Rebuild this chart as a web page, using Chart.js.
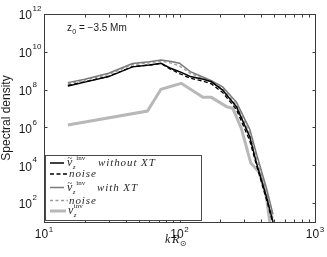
<!DOCTYPE html>
<html>
<head>
<meta charset="utf-8">
<script src="https://cdn.jsdelivr.net/npm/chart.js@4/dist/chart.umd.min.js"></script>
<style>
html,body{margin:0;padding:0;background:#fff;}
#c{display:block;}
</style>
</head>
<body>
<canvas id="c" width="327" height="257"></canvas>
<script>
// ---- data ----
const kMain = [15, 20, 30, 45, 60, 73, 85, 100, 120, 150, 172, 208, 263, 330, 370, 438, 490];
const vWithoutXT     = [1.55e8, 2.5e8, 4.9e8, 1.6e9, 2.0e9, 2.45e9, 1.4e9, 8.9e8, 5.0e8, 3.55e8, 2.6e8, 9.5e7, 1.26e7, 3.2e5, 1.3e4, 214, 10];
const noiseWithoutXT = [1.66e8, 2.6e8, 5.0e8, 1.66e9, 2.0e9, 2.4e9, 1.26e9, 7.1e8, 4.0e8, 2.8e8, 2.0e8, 7.1e7, 8.9e6, 2.0e5, 1.0e4, 160, 8];
const vWithXT        = [2.35e8, 3.55e8, 7.4e8, 2.4e9, 3.0e9, 3.7e9, 3.2e9, 2.5e9, 8.9e8, 4.5e8, 3.0e8, 1.4e8, 2.2e7, 7.9e5, 4.0e4, 630, 25];
const noiseWithXT    = [2.0e8, 3.2e8, 6.3e8, 2.1e9, 2.6e9, 3.2e9, 2.6e9, 1.8e9, 7.1e8, 4.0e8, 2.8e8, 1.1e8, 1.6e7, 5.0e5, 2.5e4, 400, 16];
const kInv = [15, 58, 73, 103, 149, 172, 222, 248, 286, 336, 391, 438, 464];
const vInv = [1.35e6, 7.4e6, 1.05e8, 2.15e8, 3.9e7, 3.9e7, 1.26e7, 1.0e7, 8.9e5, 1.3e4, 3.9e3, 200, 10];
const xTickExponents = ['1', '2', '3'];
const yTickExponents = ['2', '4', '6', '8', '10', '12'];
const annotationText = ['z', '0', ' = \u22123.5 Mm'];
const yTitle = 'Spectral density';
const legendLabels = [
  {base: 'v', tilde: true, sub: 'z', sup: 'inv', rest: 'without XT'},
  {rest: 'noise'},
  {base: 'v', tilde: true, sub: 'z', sup: 'inv', rest: 'with XT'},
  {rest: 'noise'},
  {base: 'v', tilde: false, sub: 'z', sup: 'inv', rest: ''}
];

const pts = (xs, ys) => xs.map((x, i) => ({x: x, y: ys[i]}));

const SANS = "'Liberation Sans', Arial, sans-serif";
const SERIF = "'Liberation Serif', 'Times New Roman', serif";

const decor = {
  id: 'decor',
  afterDraw(chart) {
    const ctx = chart.ctx;
    const ca = chart.chartArea;
    const xs = chart.scales.x, ys = chart.scales.y;
    const L = Math.round(ca.left) + 0.5, R = Math.round(ca.right) + 0.5;
    const T = Math.round(ca.top) + 0.5, B = Math.round(ca.bottom) + 0.5;
    ctx.save();
    // frame
    ctx.strokeStyle = '#3c3c3c';
    ctx.lineWidth = 1;
    ctx.setLineDash([]);
    ctx.strokeRect(L, T, R - L, B - T);
    // x ticks (log minor + major)
    ctx.beginPath();
    for (let e = 0; e < xTickExponents.length; e++) {
      const d = Math.pow(10, parseInt(xTickExponents[e]));
      const lim = (e === xTickExponents.length - 1) ? 1 : 9;
      for (let m = 1; m <= lim; m++) {
        const px = Math.round(xs.getPixelForValue(d * m)) + 0.5;
        ctx.moveTo(px, B); ctx.lineTo(px, B - 3);
        ctx.moveTo(px, T); ctx.lineTo(px, T + 3);
      }
    }
    // y ticks
    yTickExponents.forEach(ex => {
      const py = Math.round(ys.getPixelForValue(Math.pow(10, parseInt(ex)))) + 0.5;
      ctx.moveTo(L, py); ctx.lineTo(L + 3, py);
      ctx.moveTo(R, py); ctx.lineTo(R - 3, py);
    });
    ctx.stroke();

    // tick labels
    ctx.fillStyle = '#1a1a1a';
    ctx.textBaseline = 'middle';
    xTickExponents.forEach(ex => {
      const px = xs.getPixelForValue(Math.pow(10, parseInt(ex)));
      ctx.font = '12px ' + SANS;
      ctx.textAlign = 'center';
      const w = ctx.measureText('10').width;
      const cx = px - 2.5;
      ctx.fillText('10', cx, 235);
      ctx.font = '8px ' + SANS;
      ctx.textAlign = 'left';
      ctx.fillText(ex, cx + w / 2 + 0.5, 229.5);
    });
    yTickExponents.forEach(ex => {
      const py = ys.getPixelForValue(Math.pow(10, parseInt(ex)));
      ctx.font = '12px ' + SANS;
      ctx.textAlign = 'right';
      ctx.fillText('10', 32, py + 2);
      ctx.font = '8px ' + SANS;
      ctx.textAlign = 'left';
      ctx.fillText(ex, 32.5, py - 5);
    });

    // y title
    ctx.save();
    ctx.translate(7, (ca.top + ca.bottom) / 2);
    ctx.rotate(-Math.PI / 2);
    ctx.font = '12px ' + SANS;
    ctx.textAlign = 'center';
    ctx.textBaseline = 'middle';
    ctx.fillText(yTitle, 0, 0);
    ctx.restore();

    // x title  k R_sun
    ctx.textBaseline = 'alphabetic';
    ctx.textAlign = 'left';
    ctx.font = 'italic 12px ' + SERIF;
    ctx.fillText('k', 165, 243);
    ctx.fillText('R', 172, 243);
    const rw = ctx.measureText('R').width;
    ctx.font = '8px ' + "'DejaVu Sans', sans-serif";
    ctx.fillText('\u2299', 172 + rw + 0.5, 246);

    // annotation z0 = -3.5 Mm
    ctx.font = '10px ' + SANS;
    ctx.fillText(annotationText[0], 67, 31);
    let ax = 67 + ctx.measureText(annotationText[0]).width;
    ctx.font = '7px ' + SANS;
    ctx.fillText(annotationText[1], ax + 0.3, 34);
    ax += ctx.measureText(annotationText[1]).width + 0.3;
    ctx.font = '10px ' + SANS;
    ctx.fillText(annotationText[2], ax, 31);

    // legend
    const lx0 = 45.5, ly0 = 155.5, lx1 = 201.5, ly1 = 220.5;
    ctx.fillStyle = '#ffffff';
    ctx.fillRect(lx0, ly0, lx1 - lx0, ly1 - ly0);
    ctx.strokeStyle = '#4a4a4a';
    ctx.lineWidth = 1;
    ctx.strokeRect(lx0, ly0, lx1 - lx0, ly1 - ly0);
    const rowsY = [163, 174, 187.5, 200.5, 211];
    const sampleEnd = [64, 68, 64, 68, 66];
    chart.data.datasets.forEach((ds, i) => {
      const y = rowsY[i];
      ctx.save();
      ctx.strokeStyle = ds.borderColor;
      ctx.lineWidth = ds.borderWidth;
      ctx.setLineDash(ds.borderDash || []);
      ctx.beginPath();
      ctx.moveTo(50, y); ctx.lineTo(sampleEnd[i], y);
      ctx.stroke();
      ctx.restore();
      const lab = legendLabels[i];
      ctx.fillStyle = '#2a2a2a';
      ctx.textBaseline = 'alphabetic';
      ctx.textAlign = 'left';
      if (lab.base) {
        const bx = lab.tilde ? 67 : 68;
        ctx.font = 'italic 12px ' + SERIF;
        ctx.fillText(lab.base, bx, y + 3);
        const bw = ctx.measureText(lab.base).width;
        if (lab.tilde) {
          ctx.font = '9px ' + SERIF;
          ctx.fillText('~', bx + 0.5, y - 2);
        }
        ctx.font = 'italic 7px ' + SERIF;
        ctx.fillText(lab.sub, bx + bw + 0.5, y + 6);
        ctx.font = '7px ' + SERIF;
        ctx.fillText(lab.sup, bx + bw + (lab.tilde ? 4 : 0.5), y - 3);
        if (lab.rest) {
          ctx.font = 'italic 11px ' + SERIF;
          ctx.fillText(lab.rest.split('').join('\u200A'), lab.rest === 'with XT' ? 97 : 98, y + 3);
        }
      } else {
        ctx.font = 'italic 11px ' + SERIF;
        ctx.fillText(lab.rest.split('').join('\u200A'), 69, y + 3);
      }
    });
    ctx.restore();
  }
};

new Chart(document.getElementById('c'), {
  type: 'line',
  data: {
    datasets: [
      {label: 'v without XT', data: pts(kMain, vWithoutXT), borderColor: '#000000', borderWidth: 1.5, borderDash: []},
      {label: 'noise', data: pts(kMain, noiseWithoutXT), borderColor: '#000000', borderWidth: 1.3, borderDash: [4, 2.5]},
      {label: 'v with XT', data: pts(kMain, vWithXT), borderColor: '#7a7a7a', borderWidth: 1.5, borderDash: []},
      {label: 'noise', data: pts(kMain, noiseWithXT), borderColor: '#9a9a9a', borderWidth: 1.3, borderDash: [3, 2.5]},
      {label: 'v inv', data: pts(kInv, vInv), borderColor: '#b8b8b8', borderWidth: 3, borderDash: []}
    ]
  },
  options: {
    responsive: false,
    devicePixelRatio: 1,
    animation: false,
    layout: {padding: {left: 44, top: 14, right: 12, bottom: 35}},
    elements: {point: {radius: 0}, line: {tension: 0, fill: false}},
    plugins: {legend: {display: false}, tooltip: {enabled: false}},
    scales: {
      x: {type: 'logarithmic', min: 10, max: 1000, display: false},
      y: {type: 'logarithmic', min: 10, max: 1e12, display: false}
    }
  },
  plugins: [decor]
});
</script>
</body>
</html>
